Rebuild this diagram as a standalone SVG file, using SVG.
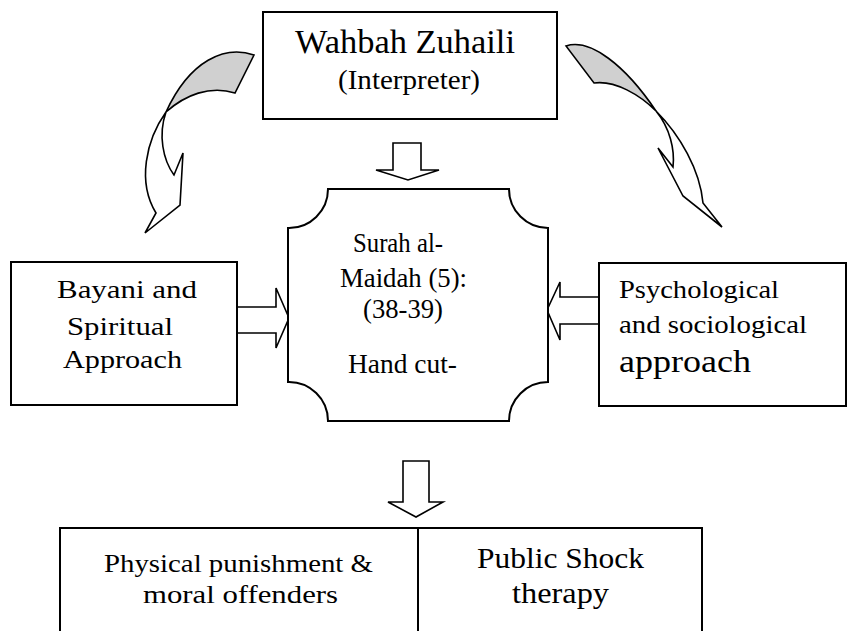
<svg xmlns="http://www.w3.org/2000/svg" width="847" height="631" viewBox="0 0 847 631">
<style>
.box{fill:#fff;stroke:#000;stroke-width:2}
.arr{fill:#fff;stroke:#000;stroke-width:1.6;stroke-linejoin:miter}
.tw{fill:#d0d0d0;stroke:#000;stroke-width:1.6}
text{font-family:"Liberation Serif","Times New Roman",serif;fill:#000}
.p{font-size:26px}
</style>
<rect width="847" height="631" fill="#fff"/>
<g id="connectors">
  <path class="arr" d="M166,112 C146,140 137,182 156,213 L145,233 L180,205 L183,153 L174,175 C163,160 158,135 166,112 Z"/>
  <path class="tw" d="M254,55 C225,45 190,60 166,112 C185,95 210,85 235,93 Z"/>
  <path class="arr" d="M656,111 C680,135 700,170 703,203 L722,227 L683,196 L658,148 L673,167 C675,150 670,128 656,111 Z"/>
  <path class="tw" d="M566,46 C590,38 625,65 656,111 C640,95 615,80 594,83 Z"/>
  <path class="arr" d="M393,143 H421 V170 H439 L408,180 L376,170 H393 Z"/>
  <path class="arr" d="M237,307 H276 V288 L289,318 L276,348 V333 H237 Z"/>
  <path class="arr" d="M599,297 H560 V282 L547,310 L560,340 V324 H599 Z"/>
  <path class="arr" d="M403,461 H429 V502 H443 L416,517 L388,502 H403 Z"/>
</g>
<g id="top">
  <rect class="box" x="263" y="12" width="294" height="107"/>
  <text x="295" y="53" font-size="34" textLength="220" lengthAdjust="spacingAndGlyphs">Wahbah Zuhaili</text>
  <text x="338" y="89" font-size="27" textLength="142" lengthAdjust="spacingAndGlyphs">(Interpreter)</text>
</g>
<g id="center">
  <path class="box" d="M328,189 H509 A39,39 0 0 0 548,228 V382 A39,39 0 0 0 509,421 H328 A39,39 0 0 0 288,382 V228 A39,39 0 0 0 328,189 Z"/>
  <text x="353" y="252" font-size="26.7" textLength="90" lengthAdjust="spacingAndGlyphs">Surah al-</text>
  <text x="340" y="287" font-size="26.7" textLength="127" lengthAdjust="spacingAndGlyphs">Maidah (5):</text>
  <text x="363" y="318" font-size="26.7" textLength="80" lengthAdjust="spacingAndGlyphs">(38-39)</text>
  <text x="348" y="373" font-size="26.7" textLength="109" lengthAdjust="spacingAndGlyphs">Hand cut-</text>
</g>
<g id="left">
  <rect class="box" x="11" y="262" width="226" height="143"/>
  <text class="p" x="57" y="298" textLength="140" lengthAdjust="spacingAndGlyphs">Bayani and</text>
  <text class="p" x="67" y="335" textLength="106" lengthAdjust="spacingAndGlyphs">Spiritual</text>
  <text class="p" x="63" y="368" textLength="119" lengthAdjust="spacingAndGlyphs">Approach</text>
</g>
<g id="right">
  <rect class="box" x="599" y="263" width="247" height="143"/>
  <text class="p" x="619" y="298" textLength="160" lengthAdjust="spacingAndGlyphs">Psychological</text>
  <text class="p" x="619" y="333" textLength="188" lengthAdjust="spacingAndGlyphs">and sociological</text>
  <text x="619" y="372" font-size="31" textLength="132" lengthAdjust="spacingAndGlyphs">approach</text>
</g>
<g id="bottom">
  <path class="box" fill="none" d="M60,640 V528 H702 V640 M418,528 V640"/>
  <text class="p" x="104" y="572" textLength="269" lengthAdjust="spacingAndGlyphs">Physical punishment &amp;</text>
  <text class="p" x="143" y="603" font-size="28" textLength="195" lengthAdjust="spacingAndGlyphs">moral offenders</text>
  <text x="477" y="568" font-size="29" textLength="167" lengthAdjust="spacingAndGlyphs">Public Shock</text>
  <text x="512" y="603" font-size="29" textLength="97" lengthAdjust="spacingAndGlyphs">therapy</text>
</g>
</svg>
